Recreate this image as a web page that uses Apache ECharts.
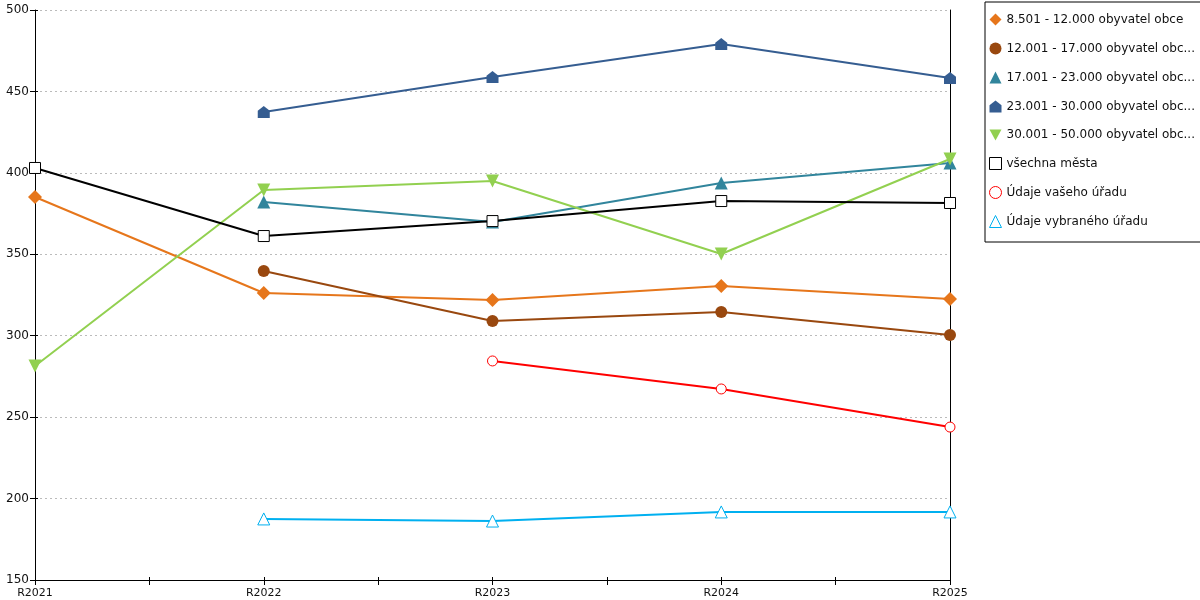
<!DOCTYPE html>
<html>
<head>
<meta charset="utf-8">
<script src="https://cdn.jsdelivr.net/npm/echarts@6/dist/echarts.min.js"></script>
<style>
  html, body { margin: 0; padding: 0; background: #fff; }
  #chart { width: 1200px; height: 600px; }
</style>
</head>
<body>
<div id="chart"></div>
<script>
// kategorie (roky)
var roky = ['R2021', 'R2022', 'R2023', 'R2024', 'R2025'];
var yTicks = [150, 200, 250, 300, 350, 400, 450, 500];

// hodnoty serii (null = bez udaje)
var obce8501  = [385.2, 326.2, 321.9, 330.5, 322.5];
var obce12001 = [null, 339.7, 309.0, 314.6, 300.4];
var obce17001 = [null, 382.1, 369.8, 393.8, 406.0];
var obce23001 = [null, 437.4, 458.9, 479.1, 458.2];
var obce30001 = [281.4, 389.5, 395.0, 350.2, 408.5];
var vsechnaMesta = [403.0, 361.2, 370.4, 382.7, 381.5];
var vasUrad = [null, null, 284.5, 267.3, 243.9];
var vybranyUrad = [null, 187.5, 186.2, 191.8, 191.8];

var nazvy = [
	'8.501 - 12.000 obyvatel obce',
	'12.001 - 17.000 obyvatel obc...',
	'17.001 - 23.000 obyvatel obc...',
	'23.001 - 30.000 obyvatel obc...',
	'30.001 - 50.000 obyvatel obc...',
	'všechna města',
	'Údaje vašeho úřadu',
	'Údaje vybraného úřadu'
];
var barvy = ['#e6761b', '#99480f', '#31859c', '#355d91', '#92d050', '#000000', '#ff0000', '#00b0f0'];
var duti = [false, false, false, false, false, true, true, true];

var housePath = 'path://M0,-10 L10,-2 L10,10 L-10,10 L-10,-2 Z';
var downTri = 'path://M-10,-9 L10,-9 L0,9 Z';
var ikony = ['diamond', 'circle', 'triangle', housePath, downTri, 'rect', 'circle', 'triangle'];
var velikosti = [14, 12, 13, 12, 13, 11, 10, 12];

function pairs(arr) {
	return arr.map(function(v, i) { return [i, v]; });
}

function styl(i) {
	if (duti[i]) {
		return { color: '#fff', borderColor: barvy[i], borderWidth: 1 };
	}
	return { color: barvy[i], borderColor: 'rgba(0,0,0,0)', borderWidth: 1 };
}

var data = [obce8501, obce12001, obce17001, obce23001, obce30001, vsechnaMesta, vasUrad, vybranyUrad];

var series = data.map(function(d, i) {
	return {
		name: nazvy[i],
		type: 'line',
		data: pairs(d),
		symbol: ikony[i],
		symbolSize: velikosti[i],
		showAllSymbol: true,
		connectNulls: false,
		animation: false,
		lineStyle: { color: barvy[i], width: 2 },
		itemStyle: styl(i),
		emphasis: { disabled: true }
	};
});

var chart = echarts.init(document.getElementById('chart'));

var option = {
	backgroundColor: '#fff',
	textStyle: { fontFamily: 'DejaVu Sans' },
	grid: { left: 35, right: 250, top: 10, bottom: 20 },
	legend: {
		orient: 'vertical',
		left: 985,
		top: 2,
		width: 214,
		padding: [11, 8, 14, 4],
		itemGap: 16,
		itemWidth: 12,
		itemHeight: 12,
		borderColor: '#000',
		borderWidth: 1,
		selectedMode: false,
		textStyle: { fontFamily: 'DejaVu Sans', fontSize: 12, color: '#111', padding: [0, 10, 0, 0] },
		data: nazvy.map(function(n, i) { return { name: n, icon: ikony[i], itemStyle: styl(i) }; })
	},
	xAxis: [{
		type: 'value',
		min: 0,
		max: 4,
		interval: 0.5,
		axisLine: { onZero: false, lineStyle: { color: '#000', width: 1 } },
		axisTick: { show: true, length: 5, lineStyle: { color: '#000' } },
		splitLine: { show: false },
		axisLabel: {
			color: '#111',
			fontSize: 11,
			margin: 8,
			formatter: function(v) { return Number.isInteger(v) ? roky[v] : ''; }
		}
	}, {
		type: 'value',
		min: 0,
		max: 4,
		interval: 0.5,
		position: 'bottom',
		axisLine: { show: false, onZero: false },
		axisTick: { show: true, inside: true, length: 3, lineStyle: { color: '#000' } },
		axisLabel: { show: false },
		splitLine: { show: false }
	}],
	yAxis: [{
		type: 'value',
		min: yTicks[0],
		max: yTicks[yTicks.length - 1],
		interval: 50,
		axisLine: { show: true, onZero: false, lineStyle: { color: '#000', width: 1 } },
		axisTick: { show: true, length: 5, lineStyle: { color: '#000' } },
		axisLabel: { color: '#111', fontSize: 12, margin: 6 },
		splitLine: { show: true, lineStyle: { color: '#bbb', type: [2, 3], width: 1 } }
	}, {
		type: 'value',
		min: yTicks[0],
		max: yTicks[yTicks.length - 1],
		interval: 50,
		position: 'right',
		axisLine: { show: true, onZero: false, lineStyle: { color: '#000', width: 1 } },
		axisTick: { show: false },
		axisLabel: { show: false },
		splitLine: { show: false }
	}, {
		type: 'value',
		min: yTicks[0],
		max: yTicks[yTicks.length - 1],
		interval: 50,
		position: 'left',
		axisLine: { show: false, onZero: false },
		axisTick: { show: true, inside: true, length: 3, lineStyle: { color: '#000' } },
		axisLabel: { show: false },
		splitLine: { show: false }
	}],
	series: series
};

chart.setOption(option);
</script>
</body>
</html>
